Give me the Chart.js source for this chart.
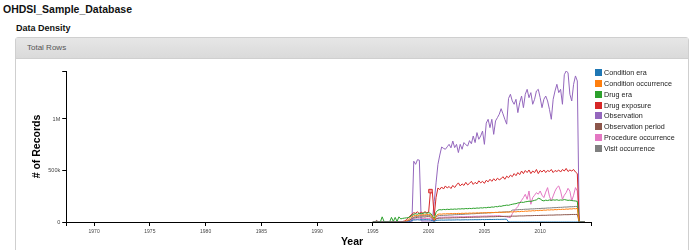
<!DOCTYPE html>
<html>
<head>
<meta charset="utf-8">
<script src="https://cdn.jsdelivr.net/npm/chart.js@4"></script>
<style>
  html, body { margin: 0; padding: 0; background: #fff; overflow: hidden; }
  body { width: 690px; height: 250px; position: relative; font-family: Arial, "Liberation Sans", sans-serif; }
  .db-title { position: absolute; left: 3px; top: 3px; font-size: 10.5px; font-weight: bold; color: #111; }
  .section { position: absolute; left: 16px; top: 23px; font-size: 9px; font-weight: bold; color: #111; }
  .panel { position: absolute; left: 15px; top: 37px; width: 672px; height: 230px; border: 1px solid #cfcfcf; border-radius: 3px; }
  .panel-head { height: 20px; line-height: 20px; background: linear-gradient(#e6e6e6, #dadada); border-bottom: 1px solid #cfcfcf; padding-left: 11px; font-size: 8px; color: #555; }
  #chartWrap { position: absolute; left: 16px; top: 59px; width: 672px; height: 191px; }
  #xTitle { position: absolute; left: 352px; top: 235px; transform: translateX(-50%); font-size: 10.5px; font-weight: bold; color: #000; }
  #legend { position: absolute; left: 595px; top: 67px; font-size: 7.2px; color: #222; }
  #legend .row { display: flex; align-items: center; height: 10.86px; }
  #legend .box { width: 7px; height: 7px; margin-right: 2px; }
</style>
</head>
<body>
<div class="db-title">OHDSI_Sample_Database</div>
<div class="section">Data Density</div>
<div class="panel"><div class="panel-head">Total Rows</div></div>
<div id="chartWrap"><canvas id="density" width="672" height="191"></canvas></div>
<div id="xTitle">Year</div>
<div id="legend"></div>
<script>
// bi-monthly periods, Jan 1995 .. Jan 2014
const firstYear = 1995;
const periodCount = 115;
const periods = [];
for (let i = 0; i < periodCount; i++) periods.push(firstYear + i / 6);

// record counts in thousands, one value per period
const conditionEra = [
  0,0,0,0,0,0, 0,0,0,0,0,0, 0,0,0,0,0,0,
  0,0,5,15,20,20, 22,20,22,21,23,22, 22,20,12,5,15,18,
  18,19,18,19,19,20, 19,20,20,21,21,20, 21,21,22,21,22,22,
  22,23,22,23,23,24, 23,24,24,25,24,25, 25,26,25,26,26,27,
  26,0,0,0,0,0, 0,0,0,0,0,0, 0,0,0,0,0,0,
  0,0,0,0,0,0, 0,0,0,0,0,0, 0,0,0,0,0,0,
  0,0,0,0,0,0, 0
];
const conditionOccurrence = [
  0,0,0,0,0,0, 0,0,0,0,0,0, 0,0,0,0,0,5,
  10,20,35,50,60,65, 60,70,65,72,68,75, 70,72,50,20,60,75,
  78,76,80,78,81,79, 82,80,83,81,84,82, 85,83,86,84,87,85,
  88,86,89,87,90,88, 91,89,92,90,93,91, 94,92,95,93,96,94,
  97,95,99,97,100,98, 102,100,104,102,106,104, 108,106,110,108,112,110,
  114,112,116,114,118,116, 119,117,121,119,123,121, 124,122,126,124,128,126,
  130,128,132,0,0,0, 0
];
const drugEra = [
  0,0,0,0,0,50, 5,0,0,0,45,5, 45,5,50,30,35,38,
  40,42,50,65,75,80, 75,85,80,85,90,85, 90,85,60,30,95,115,
  120,118,122,120,124,121, 125,123,126,124,128,126, 129,127,131,129,132,130,
  134,132,136,134,138,136, 140,138,143,141,146,144, 150,148,154,152,158,160,
  164,162,168,172,176,178, 185,188,192,190,196,198, 202,200,205,210,215,230,
  225,210,205,212,208,214, 210,215,212,216,210,214, 212,218,214,210,212,208,
  206,204,200,0,0,0, 0
];
const drugExposure = [
  0,0,0,0,0,0, 0,0,0,0,0,0, 0,0,0,0,5,10,
  20,40,60,75,90,85, 100,80,95,85,100,90, 95,300,290,60,240,330,
  315,340,320,350,330,345, 325,355,335,360,380,350, 370,355,385,360,375,395,
  365,385,370,400,380,395, 375,405,390,415,395,420, 400,425,410,420,440,415,
  445,430,455,440,470,450, 480,460,495,470,500,480, 505,470,495,480,510,470,
  500,485,505,480,500,490, 510,480,500,490,505,485, 510,495,520,490,505,495,
  510,485,470,0,0,0, 0
];
const observation = [
  0,0,0,0,0,0, 0,0,0,0,0,0, 0,0,0,0,0,0,
  0,0,0,0,590,560, 605,600,10,10,10,10, 10,10,10,200,380,560,
  650,728,715,706,730,754, 720,786,722,754,674,754, 706,771,750,738,790,760,
  835,771,868,803,835,883, 754,960,997,916,997,851, 981,1013,1046,1100,1050,997,
  950,1200,1240,1175,1143,1191, 1062,1159,1223,1110,1240,1288, 1207,1256,1143,1191,1272,1288,
  1207,1110,1191,1223,1175,1094, 997,1191,1272,1337,1256,1288, 1143,1430,1466,1450,1240,1175,
  1337,1418,1369,0,0,0, 0
];
const observationPeriod = [
  0,0,15,0,0,0, 0,0,0,0,0,0, 0,0,0,0,0,5,
  8,12,20,30,38,42, 45,48,46,50,48,52, 52,50,30,10,30,36,
  37,37,38,39,39,39, 40,41,41,41,42,43, 43,43,44,45,45,45,
  46,47,47,47,48,49, 49,49,50,51,51,51, 52,53,53,53,54,55,
  55,55,56,57,57,57, 58,59,59,59,60,61, 61,61,62,63,63,63,
  64,65,65,65,66,67, 67,67,68,69,69,69, 70,71,71,71,72,73,
  73,73,74,0,0,0, 0
];
const procedureOccurrence = [
  0,0,0,0,0,0, 0,0,0,0,0,0, 0,0,0,0,0,0,
  0,5,10,20,25,30, 30,32,30,34,32,35, 34,32,20,10,30,40,
  45,47,46,48,47,49, 48,50,49,51,50,52, 51,50,53,52,54,53,
  55,54,56,55,57,56, 58,57,59,58,60,59, 61,60,62,58,55,52,
  50,45,42,80,107,130, 150,188,210,237,269,220, 301,172,237,260,285,270,
  301,260,237,290,334,250, 204,253,300,334,350,300, 220,260,285,327,300,204,
  260,334,301,0,0,0, 0
];
const visitOccurrence = [
  0,0,10,0,0,0, 0,0,0,0,0,0, 0,0,0,0,0,0,
  5,10,20,35,45,55, 55,60,58,62,60,65, 65,62,40,15,50,60,
  62,63,65,65,66,68, 68,69,71,71,72,74, 74,75,77,77,78,80,
  80,81,83,83,84,86, 86,87,89,89,90,92, 92,93,95,95,96,98,
  98,99,100,115,117,118, 119,121,121,122,124,124, 125,127,127,128,130,130,
  131,133,133,134,136,136, 137,139,139,140,142,142, 143,145,145,146,148,148,
  149,151,151,0,0,0, 0
];

const seriesNames = ['Condition era', 'Condition occurrence', 'Drug era', 'Drug exposure',
  'Observation', 'Observation period', 'Procedure occurrence', 'Visit occurrence'];
const seriesValues = [conditionEra, conditionOccurrence, drugEra, drugExposure,
  observation, observationPeriod, procedureOccurrence, visitOccurrence];
const seriesColors = ['#1f77b4', '#ff7f0e', '#2ca02c', '#d62728', '#9467bd', '#8c564b', '#e377c2', '#7f7f7f'];

// the one highlighted point (drug exposure, Mar 2000)
const markedSeries = 3;
const markedPeriod = 31;

const xTickYears = [1967.5, 1970, 1975, 1980, 1985, 1990, 1995, 2000, 2005, 2010, 2014.56];
const yTickValues = [0, 500, 1000, 1466];
const yTickLabels = ['0', '500k', '1M', ''];

Chart.defaults.font.family = 'Arial, "Liberation Sans", sans-serif';

const datasets = seriesNames.map((name, s) => ({
  label: name,
  data: periods.map((t, i) => ({ x: t, y: seriesValues[s][i] })),
  borderColor: seriesColors[s],
  backgroundColor: seriesColors[s],
  borderWidth: 1,
  pointStyle: 'rect',
  pointRadius: ctx => (s === markedSeries && ctx.dataIndex === markedPeriod ? 2.5 : 0),
  pointBackgroundColor: '#f4a0a0',
  pointBorderColor: seriesColors[s],
  pointBorderWidth: 1,
  tension: 0,
  fill: false
}));

const axisLine = {
  drawOnChartArea: false,
  drawTicks: true,
  tickLength: 4,
  color: '#000'
};

new Chart(document.getElementById('density'), {
  type: 'line',
  data: { datasets: datasets },
  options: {
    responsive: false,
    animation: false,
    layout: { padding: { left: 10.7, top: 12, right: 97, bottom: 12 } },
    plugins: { legend: { display: false }, tooltip: { enabled: false } },
    scales: {
      x: {
        type: 'linear',
        min: 1967.5,
        max: 2014.56,
        afterBuildTicks: axis => { axis.ticks = xTickYears.map(v => ({ value: v })); },
        ticks: {
          autoSkip: false,
          maxRotation: 0,
          padding: 3,
          font: { size: 5 },
          color: '#444',
          callback: v => (v % 5 === 0 ? String(v) : '')
        },
        grid: axisLine,
        border: { color: '#000', width: 1 }
      },
      y: {
        min: 0,
        max: 1466,
        afterBuildTicks: axis => { axis.ticks = yTickValues.map(v => ({ value: v })); },
        ticks: {
          autoSkip: false,
          padding: 2,
          font: { size: 5.5 },
          color: '#444',
          callback: (v, i) => yTickLabels[i]
        },
        title: {
          display: true,
          text: '# of Records',
          font: { size: 10.5, weight: 'bold' },
          color: '#000',
          padding: { top: 4, bottom: 3 }
        },
        grid: axisLine,
        border: { color: '#000', width: 1 }
      }
    }
  }
});

// legend box built from the same names and colours
const legend = document.getElementById('legend');
seriesNames.forEach((name, s) => {
  const row = document.createElement('div');
  row.className = 'row';
  row.innerHTML = '<span class="box" style="background:' + seriesColors[s] + '"></span><span>' + name + '</span>';
  legend.appendChild(row);
});
</script>
</body>
</html>
